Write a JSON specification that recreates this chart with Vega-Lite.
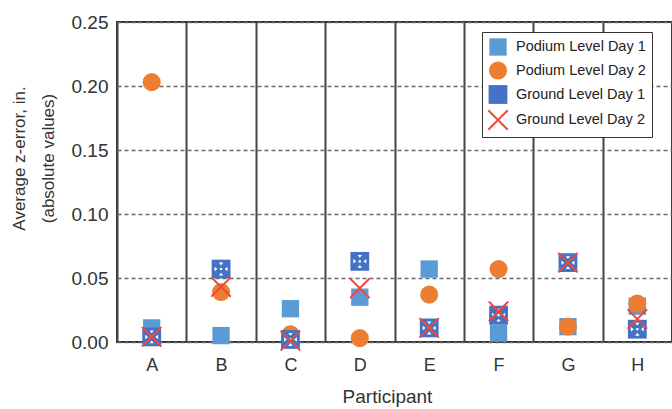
{
  "$schema": "https://vega.github.io/schema/vega-lite/v6.json",
  "width": 555,
  "height": 320,
  "autosize": {"type": "none"},
  "padding": {"left": 117, "top": 22, "right": 0, "bottom": 67},
  "background": "white",
  "config": {
    "font": "Liberation Sans",
    "view": {"stroke": "#333", "strokeWidth": 2},
    "axis": {"labelColor": "#333", "titleColor": "#333", "titleFontWeight": "normal", "domain": false, "ticks": false, "tickSize": 0}
  },
  "data": {
    "values": [
      {"participant": "A", "series": "Podium Level Day 1", "z": 0.011},
      {"participant": "B", "series": "Podium Level Day 1", "z": 0.005},
      {"participant": "C", "series": "Podium Level Day 1", "z": 0.026},
      {"participant": "D", "series": "Podium Level Day 1", "z": 0.035},
      {"participant": "E", "series": "Podium Level Day 1", "z": 0.057},
      {"participant": "F", "series": "Podium Level Day 1", "z": 0.007},
      {"participant": "G", "series": "Podium Level Day 1", "z": 0.012},
      {"participant": "H", "series": "Podium Level Day 1", "z": 0.028},
      {"participant": "A", "series": "Podium Level Day 2", "z": 0.203},
      {"participant": "B", "series": "Podium Level Day 2", "z": 0.039},
      {"participant": "C", "series": "Podium Level Day 2", "z": 0.006},
      {"participant": "D", "series": "Podium Level Day 2", "z": 0.003},
      {"participant": "E", "series": "Podium Level Day 2", "z": 0.037},
      {"participant": "F", "series": "Podium Level Day 2", "z": 0.057},
      {"participant": "G", "series": "Podium Level Day 2", "z": 0.012},
      {"participant": "H", "series": "Podium Level Day 2", "z": 0.030},
      {"participant": "A", "series": "Ground Level Day 1", "z": 0.004},
      {"participant": "B", "series": "Ground Level Day 1", "z": 0.057},
      {"participant": "C", "series": "Ground Level Day 1", "z": 0.002},
      {"participant": "D", "series": "Ground Level Day 1", "z": 0.063},
      {"participant": "E", "series": "Ground Level Day 1", "z": 0.011},
      {"participant": "F", "series": "Ground Level Day 1", "z": 0.021},
      {"participant": "G", "series": "Ground Level Day 1", "z": 0.062},
      {"participant": "H", "series": "Ground Level Day 1", "z": 0.010},
      {"participant": "A", "series": "Ground Level Day 2", "z": 0.004},
      {"participant": "B", "series": "Ground Level Day 2", "z": 0.043},
      {"participant": "C", "series": "Ground Level Day 2", "z": 0.001},
      {"participant": "D", "series": "Ground Level Day 2", "z": 0.042},
      {"participant": "E", "series": "Ground Level Day 2", "z": 0.011},
      {"participant": "F", "series": "Ground Level Day 2", "z": 0.024},
      {"participant": "G", "series": "Ground Level Day 2", "z": 0.062},
      {"participant": "H", "series": "Ground Level Day 2", "z": 0.018}
    ]
  },
  "encoding": {
    "x": {
      "field": "participant", "type": "nominal",
      "scale": {"type": "band", "paddingInner": 0, "paddingOuter": 0},
      "axis": {
        "title": "Participant", "labelAngle": 0, "labelFontSize": 18, "titleFontSize": 19,
        "labelPadding": 14, "titlePadding": 13, "titleX": 270,
        "grid": true, "tickBand": "extent", "gridColor": "#444", "gridWidth": 2
      }
    },
    "y": {
      "field": "z", "type": "quantitative",
      "scale": {"domain": [0, 0.25]},
      "axis": {
        "title": ["Average z-error, in.", "(absolute values)"],
        "titleFontSize": 17, "titleLineHeight": 29, "titlePadding": 14, "titleY": 136,
        "labelFontSize": 19, "labelPadding": 9, "format": ".2f",
        "values": [0, 0.05, 0.1, 0.15, 0.2, 0.25],
        "grid": true, "gridDash": [4, 3], "gridColor": "#6a6a6a", "gridWidth": 1.5
      }
    }
  },
  "layer": [
    {
      "transform": [{"filter": "datum.series !== 'Ground Level Day 2'"}],
      "mark": {"type": "point", "filled": true, "opacity": 1},
      "encoding": {
        "color": {
          "field": "series", "type": "nominal",
          "scale": {
            "domain": ["Podium Level Day 1", "Podium Level Day 2", "Ground Level Day 1", "Ground Level Day 2"],
            "range": ["#5B9BD5", "#ED7D31", "#4472C4", "#F0493A"]
          },
          "legend": {
            "title": null, "orient": "none", "legendX": 365, "legendY": 10,
            "strokeColor": "#333", "fillColor": "white", "padding": 6,
            "labelFontSize": 14.5, "labelColor": "#222", "labelOffset": 8,
            "symbolSize": 300, "rowPadding": 5, "symbolStrokeWidth": 0
          }
        },
        "shape": {
          "field": "series", "type": "nominal",
          "scale": {
            "domain": ["Podium Level Day 1", "Podium Level Day 2", "Ground Level Day 1", "Ground Level Day 2"],
            "range": ["square", "circle", "square", "M-0.93,-1.07L1.07,0.93L0.93,1.07L-1.07,-0.93ZM0.93,-1.07L1.07,-0.93L-0.93,1.07L-1.07,0.93Z"]
          },
          "legend": {
            "title": null, "orient": "none", "legendX": 365, "legendY": 10,
            "strokeColor": "#333", "fillColor": "white", "padding": 6,
            "labelFontSize": 14.5, "labelColor": "#222", "labelOffset": 8,
            "symbolSize": 300, "rowPadding": 5, "symbolStrokeWidth": 0
          }
        },
        "size": {
          "field": "series", "type": "nominal", "legend": null,
          "scale": {
            "domain": ["Podium Level Day 1", "Podium Level Day 2", "Ground Level Day 1", "Ground Level Day 2"],
            "range": [300, 380, 324, 324]
          }
        }
      }
    },
    {
      "transform": [{"filter": "datum.series === 'Ground Level Day 1'"}],
      "mark": {
        "type": "point", "filled": true, "opacity": 1, "color": "white", "size": 324,
        "shape": "M-0.25,-0.72L0.25,-0.72L0,-0.4ZM-0.25,0.72L0.25,0.72L0,0.4ZM-0.72,-0.25L-0.72,0.25L-0.4,0ZM0.72,-0.25L0.72,0.25L0.4,0ZM-0.12,-0.12L0.12,-0.12L0.12,0.12L-0.12,0.12Z"
      }
    },
    {
      "transform": [{"filter": "datum.series === 'Ground Level Day 2'"}],
      "mark": {"type": "point", "filled": true, "opacity": 1},
      "encoding": {
        "color": {"field": "series", "type": "nominal"},
        "shape": {"field": "series", "type": "nominal"},
        "size": {"field": "series", "type": "nominal", "legend": null}
      }
    }
  ]
}
